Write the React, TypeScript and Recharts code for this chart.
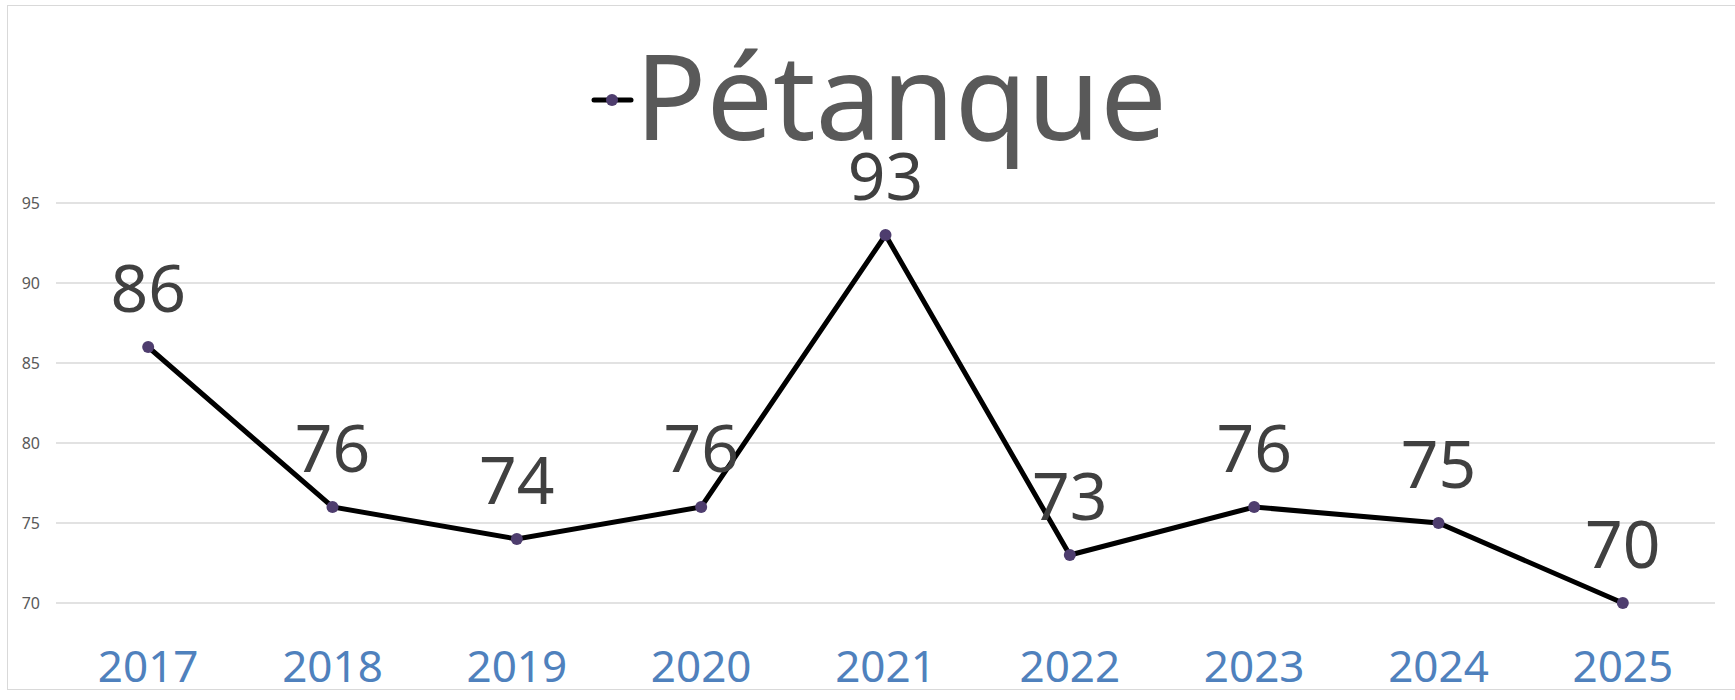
import React from "react";
import { LineChart, Line, XAxis, YAxis, CartesianGrid, LabelList, Legend } from "recharts";

const years = ["2017", "2018", "2019", "2020", "2021", "2022", "2023", "2024", "2025"];
const petanque = [86, 76, 74, 76, 93, 73, 76, 75, 70];
const yTicks = [70, 75, 80, 85, 90, 95];
const seriesName = "Pétanque";

const data = years.map((y, i) => ({ year: y, value: petanque[i] }));

const FONT = "'Noto Sans', 'Open Sans', sans-serif";

const LegendContent = () => (
  <svg width={620} height={160} style={{ display: "block", overflow: "visible" }}>
    <line x1={14} x2={51} y1={80} y2={80} stroke="#000" strokeWidth={5} strokeLinecap="round" />
    <circle cx={32} cy={80} r={6} fill="#4e3d6e" />
    <text x={55} y={120} fontFamily={FONT} fontSize={118} fill="#595959">
      {seriesName}
    </text>
  </svg>
);

export default function App() {
  return (
    <div
      style={{
        position: "absolute",
        left: 0,
        top: 0,
        width: 1735,
        height: 700,
        background: "#fff",
        overflow: "hidden",
      }}
    >
      <div
        style={{
          position: "absolute",
          left: 7,
          top: 5,
          width: 1745,
          height: 685,
          border: "1.5px solid #d9d9d9",
          boxSizing: "border-box",
        }}
      />
      <div style={{ position: "absolute", left: 0, top: 0 }}>
        <LineChart width={1735} height={700} data={data} margin={{ top: 203, right: 20, bottom: 0, left: 0 }}>
          <CartesianGrid horizontal vertical={false} stroke="#d9d9d9" strokeWidth={1.5} />
          <XAxis
            dataKey="year"
            scale="band"
            axisLine={false}
            tickLine={false}
            tickSize={0}
            tickMargin={48}
            height={97}
            interval={0}
            tick={{ fontFamily: FONT, fontSize: 44, fill: "#4f81bd" }}
          />
          <YAxis
            domain={[70, 95]}
            ticks={yTicks}
            width={56}
            axisLine={false}
            tickLine={false}
            tickSize={0}
            tickMargin={16}
            tick={{ fontFamily: FONT, fontSize: 16, fill: "#595959" }}
          />
          <Legend
            verticalAlign="middle"
            align="center"
            wrapperStyle={{ top: 20, left: 580, width: 620, height: 160 }}
            content={<LegendContent />}
          />
          <Line
            dataKey="value"
            name={seriesName}
            stroke="#000"
            strokeWidth={5}
            dot={{ r: 6, fill: "#4e3d6e", stroke: "#4e3d6e", strokeWidth: 0 }}
            activeDot={false}
            isAnimationActive={false}
          >
            <LabelList
              dataKey="value"
              position="top"
              offset={35}
              style={{ fontFamily: FONT, fontSize: 66, fill: "#404040" }}
            />
          </Line>
        </LineChart>
      </div>
    </div>
  );
}
